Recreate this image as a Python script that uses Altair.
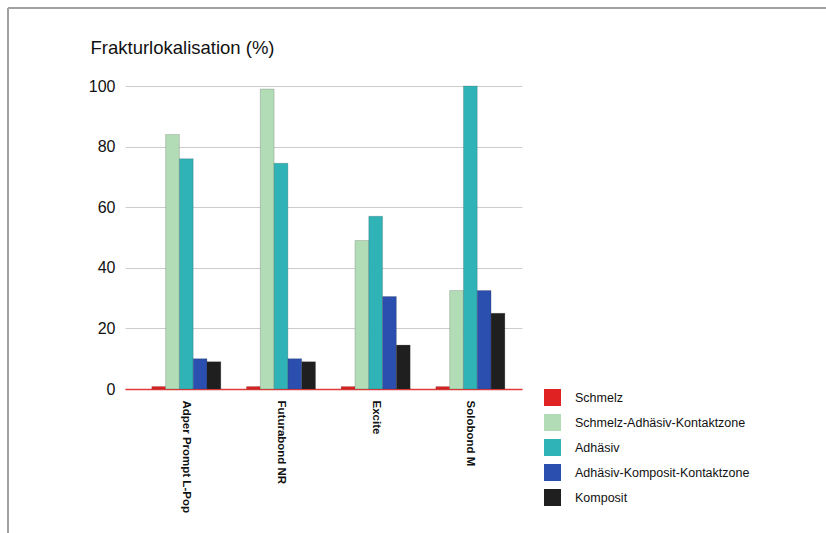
import altair as alt
import pandas as pd

products = ["Adper Prompt L-Pop", "Futurabond NR", "Excite", "Solobond M"]
series = ["Schmelz", "Schmelz-Adhäsiv-Kontaktzone", "Adhäsiv",
          "Adhäsiv-Komposit-Kontaktzone", "Komposit"]
colors = ["#e02222", "#b2dcb6", "#2fb3b6", "#2b4fae", "#1f1f1f"]

schmelz = [0.8, 0.8, 0.8, 0.8]
schmelz_adh = [84, 99, 49, 32.5]
adhaesiv = [76, 74.5, 57, 100]
adh_komp = [10, 10, 30.5, 32.5]
komposit = [9, 9, 14.5, 25]

values = [schmelz, schmelz_adh, adhaesiv, adh_komp, komposit]
rows = []
for s, vals in zip(series, values):
    for p, v in zip(products, vals):
        rows.append({"product": p, "series": s, "value": v})
df = pd.DataFrame(rows)

W, H = 397, 303
LEFT, TOP = 125, 86

bars = alt.Chart(df).mark_bar(stroke="#333333", strokeWidth=0.4, strokeOpacity=0.5).encode(
    x=alt.X("product:N", sort=products,
            scale=alt.Scale(paddingInner=0.271, paddingOuter=0.232, align=0.61),
            axis=alt.Axis(title=None, labelAngle=90, labelAlign="left",
                          labelBaseline="middle", labelFontSize=11.5,
                          labelFontWeight="bold", labelColor="#111111",
                          labelPadding=11, ticks=False, domainColor="#e33a3a",
                          domainWidth=1.6)),
    xOffset=alt.XOffset("series:N", sort=series,
                        scale=alt.Scale(paddingInner=0, paddingOuter=0)),
    y=alt.Y("value:Q", scale=alt.Scale(domain=[0, 100], nice=False),
            axis=alt.Axis(title="Frakturlokalisation (%)", values=[0, 20, 40, 60, 80, 100],
                          titleAngle=0, titleAlign="left", titleBaseline="top",
                          titleX=-35, titleY=-48, titleFontSize=18.5,
                          titleFontWeight="normal", titleColor="#111111",
                          labelFontSize=16, labelColor="#111111", labelPadding=10,
                          domain=False, ticks=False, gridColor="#cccccc",
                          gridWidth=1)),
    color=alt.Color("series:N", sort=series,
                    scale=alt.Scale(domain=series, range=colors),
                    legend=alt.Legend(title=None, orient="none",
                                      legendX=419, legendY=303,
                                      symbolType="square", symbolSize=289,
                                      symbolStrokeWidth=0, labelFontSize=12.5,
                                      labelColor="#111111", labelOffset=14,
                                      labelLimit=400, rowPadding=8)),
)

frame_top = alt.Chart(df).mark_rule(color="#a0a0a0", strokeWidth=1.5).encode(
    x=alt.value(8 - LEFT), x2=alt.value(826 - LEFT + 5), y=alt.value(8 - TOP))
frame_left = alt.Chart(df).mark_rule(color="#a0a0a0", strokeWidth=1.5).encode(
    x=alt.value(8 - LEFT), y=alt.value(8 - TOP), y2=alt.value(533 - TOP + 5))

chart = alt.layer(bars, frame_top, frame_left).properties(
    width=W, height=H,
    autosize=alt.AutoSizeParams(type="none"),
    padding={"left": LEFT, "top": TOP, "right": 826 - LEFT - W, "bottom": 533 - TOP - H},
).configure(font="Liberation Sans").configure_view(stroke=None)

chart.save("out.html", embed_options={"renderer": "svg", "actions": False})
